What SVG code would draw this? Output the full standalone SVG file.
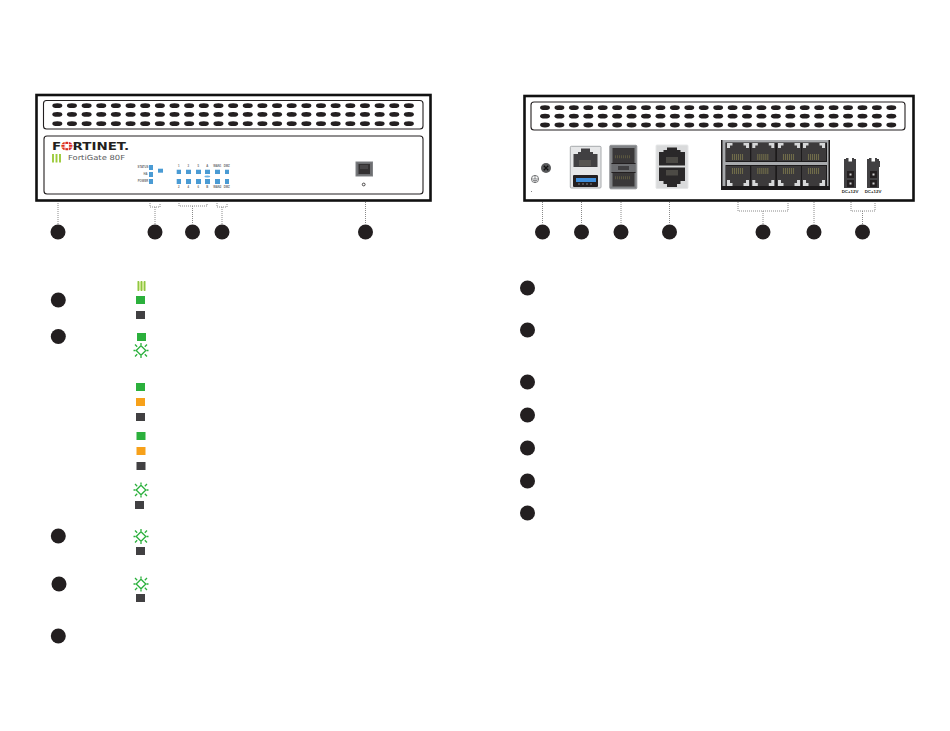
<svg xmlns="http://www.w3.org/2000/svg" xmlns:xlink="http://www.w3.org/1999/xlink" width="950" height="731" viewBox="0 0 950 731">
<style>
.case{fill:#fff;stroke:#111;stroke-width:2.6}
.panel{fill:#fff;stroke:#231f20;stroke-width:1.1}
.dot{fill:none;stroke:#8a8a8a;stroke-width:1;stroke-dasharray:1 1}
.num{fill:#231f20}
.g{fill:#2bb03c}.o{fill:#f7a11a}.d{fill:#414042}.b{fill:#4a9bd4}
.tiny{font-family:"Liberation Sans",sans-serif;font-size:2.8px;font-weight:bold;fill:#6d6e71;text-anchor:middle}
.dc{font-family:"Liberation Sans",sans-serif;font-size:4.4px;font-weight:bold;fill:#231f20;text-anchor:middle}
.port{fill:#2a2829}
.lan{fill:#3c3a3b}
</style>
<defs>
<ellipse id="h" rx="5" ry="2.4" fill="#231f20"/>
<g id="row"><use xlink:href="#h" x="0"/><use xlink:href="#h" x="14.65"/><use xlink:href="#h" x="29.3"/><use xlink:href="#h" x="43.95"/><use xlink:href="#h" x="58.6"/><use xlink:href="#h" x="73.25"/><use xlink:href="#h" x="87.9"/><use xlink:href="#h" x="102.55"/><use xlink:href="#h" x="117.2"/><use xlink:href="#h" x="131.85"/><use xlink:href="#h" x="146.5"/><use xlink:href="#h" x="161.15"/><use xlink:href="#h" x="175.8"/><use xlink:href="#h" x="190.45"/><use xlink:href="#h" x="205.1"/><use xlink:href="#h" x="219.75"/><use xlink:href="#h" x="234.4"/><use xlink:href="#h" x="249.05"/><use xlink:href="#h" x="263.7"/><use xlink:href="#h" x="278.35"/><use xlink:href="#h" x="293"/><use xlink:href="#h" x="307.65"/><use xlink:href="#h" x="322.3"/><use xlink:href="#h" x="336.95"/><use xlink:href="#h" x="351.6"/></g>
<g id="star" fill="none" stroke="#2bb03c" stroke-width="1.3"><path d="M0-4.8 4.8 0 0 4.8-4.8 0Z"/><path d="M0-7.5V-5.5M0 5.5V7.500M-7.500 0H-5.500M5.500 0H7.500M-6-6-3.800-3.800M6-6 3.800-3.800M-6 6-3.800 3.800M6 6 3.800 3.800"/></g>
<rect id="sq" x="-4.5" y="-4" width="9" height="8"/>
<circle id="n" r="7.5" class="num"/>
<g id="ltop"><rect class="lan" width="24" height="18"/><path d="M1 0H6.500V2.500H4V5H1ZM17.500 0H23V5H20V2.500H17.500Z" fill="#d6d7d8"/><path d="M6.500 11V17M8.500 11V17M10.500 11V17M12.500 11V17M14.500 11V17M16.500 11V17" stroke="#6f6b4a" stroke-width="1.100" fill="none"/></g>
<g id="lbot"><rect class="lan" width="24" height="20"/><path d="M1 14H4V17H6.500V20H1ZM20 14H23V20H17.500V17H20Z" fill="#d6d7d8"/><path d="M6.500 2V8M8.500 2V8M10.500 2V8M12.500 2V8M14.500 2V8M16.500 2V8" stroke="#6f6b4a" stroke-width="1.100" fill="none"/></g>
</defs>

<g id="connectors">
<path class="dot" d="M58 203V224M150 203V207H160V203M155 207V224M179 203V206H207V203M192.500 206V224M217 203V207H227V203M222 207V224M365.500 202V224"/>
<path class="dot" d="M542.500 202V224M581.500 202V224M621 202V224M669.500 202V224M738 202V211H788V202M763 211V224M814 202V224M851 202V211H875V202M862.500 211V224"/>
</g>

<g id="front-unit">
<rect class="case" x="36.500" y="95" width="394" height="105.500"/>
<rect class="panel" x="43.500" y="100.500" width="379.500" height="28.500" rx="3"/>
<use xlink:href="#row" x="57.300" y="105.700"/><use xlink:href="#row" x="57.300" y="114.400"/><use xlink:href="#row" x="57.300" y="123.700"/>
<rect class="panel" x="44" y="136" width="379" height="58" rx="3"/>
<g id="logo">
<text x="52" y="149.500" font-family="DejaVu Sans,sans-serif" font-size="10.500" font-weight="bold" fill="#231f20" textLength="77" lengthAdjust="spacingAndGlyphs">F<tspan fill="#da291c" stroke="#da291c" stroke-width=".7">O</tspan>RTINET.</text>
<path d="M65 141V151M68.500 141V151M60 144.500H74M60 147.200H74" stroke="#fff" stroke-width=".7" fill="none"/>
<path d="M53 154V162.500M56.500 154V162.500M60 154V162.500" stroke="#9ccb3b" stroke-width="1.900" fill="none"/>
<text x="68" y="160.300" font-family="DejaVu Sans,sans-serif" font-size="7" fill="#58595b" textLength="57" lengthAdjust="spacingAndGlyphs">FortiGate 80F</text>
</g>
<g id="leds">
<rect class="b" x="149" y="165" width="4" height="5"/><rect class="b" x="149" y="172" width="4" height="5"/><rect class="b" x="149" y="179" width="4" height="5"/>
<rect class="b" x="158" y="168.700" width="5" height="4"/>
<text class="tiny" x="143" y="168.300">STATUS</text><text class="tiny" x="145.500" y="175.300">HA</text><text class="tiny" x="143" y="182.300">POWER</text>
<rect class="b" x="176.700" y="169.700" width="4.300" height="4.300"/><rect class="b" x="186" y="169.700" width="5" height="4.300"/><rect class="b" x="196" y="169.700" width="5" height="4.300"/><rect class="b" x="205" y="169.700" width="5" height="4.300"/><rect class="b" x="215" y="169.700" width="5" height="4.300"/><rect class="b" x="225" y="169.700" width="4" height="4.300"/>
<rect class="b" x="176.700" y="179" width="4.300" height="5"/><rect class="b" x="186" y="179" width="5" height="5"/><rect class="b" x="196" y="179" width="5" height="5"/><rect class="b" x="205" y="179" width="5" height="5"/><rect class="b" x="215" y="179" width="5" height="5"/><rect class="b" x="225" y="179" width="4" height="5"/>
<ellipse cx="207.300" cy="176.500" rx="3" ry="1" fill="#6db3e4"/>
<text class="tiny" x="178.800" y="167">1</text><text class="tiny" x="188.300" y="167">3</text><text class="tiny" x="198.300" y="167">5</text><text class="tiny" x="207.300" y="167">A</text><text class="tiny" x="217.300" y="167">WAN1</text><text class="tiny" x="226.700" y="167">DMZ</text>
<text class="tiny" x="178.800" y="188">2</text><text class="tiny" x="188.300" y="188">4</text><text class="tiny" x="198.300" y="188">6</text><text class="tiny" x="207.300" y="188">B</text><text class="tiny" x="217.300" y="188">WAN2</text><text class="tiny" x="226.700" y="188">DMZ</text>
</g>
<g id="console">
<rect x="356" y="162" width="16.500" height="14" fill="#6d6e71" stroke="#808285"/>
<rect x="358.500" y="164" width="11.500" height="10" fill="#333132"/>
<path d="M361 165V169M363 165V169M365 165V169M367 165V169" stroke="#6d6e71" stroke-width=".7"/>
<circle cx="363.700" cy="184.500" r="1.400" fill="none" stroke="#231f20" stroke-width=".8"/>
</g>
</g>

<g id="rear-unit">
<rect class="case" x="524.500" y="96" width="389" height="104.500"/>
<rect class="panel" x="531" y="102" width="374" height="28" rx="3"/>
<g transform="translate(545 0) scale(.985 1)"><use xlink:href="#row" y="107.700"/><use xlink:href="#row" y="116.200"/><use xlink:href="#row" y="125"/></g>
<g id="ground">
<circle cx="546" cy="168" r="5" fill="#58595b"/>
<path d="M543.800 165.800 548.200 170.200M548.200 165.800 543.800 170.200" stroke="#111" stroke-width="1.300"/>
<circle cx="535" cy="179" r="3.600" fill="none" stroke="#58595b" stroke-width=".8"/>
<path d="M535 175.400V179M532 179H538M533 180.500H537M534 182H536" stroke="#58595b" stroke-width=".7"/>
<circle cx="531.500" cy="191.500" r=".5" fill="#58595b"/>
</g>
<g id="mgmt-usb">
<rect x="570.300" y="146.300" width="30.700" height="41.700" rx="1" fill="#e6e7e8" stroke="#a7a9ac"/>
<path d="M573.500 154H578V152H581V148.500H590V152H593V154H597.500V167H573.500Z" fill="#414042"/>
<path d="M580 160V166M582 160V166M584 160V166M586 160V166M588 160V166M590 160V166" stroke="#77756a" stroke-width=".8"/>
<rect x="573" y="175" width="25" height="12" rx="1" fill="#231f20"/>
<rect x="576" y="178" width="20" height="4" fill="#3f8fdc"/>
<path d="M578 184H594" stroke="#808285" stroke-width="1" stroke-dasharray="2 2"/>
</g>
<g id="sfp">
<rect x="609.800" y="145.300" width="27" height="43.500" rx="1" fill="#808285" stroke="#939598"/>
<rect x="612.500" y="148" width="22" height="15" fill="#3a3839"/>
<rect x="612.500" y="173" width="22" height="13.500" fill="#3a3839"/>
<rect x="611.500" y="163" width="24" height="10" fill="#6d6e71"/>
<path d="M611.500 163.500H635.500M611.500 172.500H635.500" stroke="#231f20" stroke-width="1"/>
<rect x="618" y="166" width="11" height="4" fill="#414042"/>
<path d="M615 156.700H631M615 177.700H631" stroke="#5a5640" stroke-width="3" stroke-dasharray="1 1"/>
</g>
<g id="wan-pair">
<rect x="656" y="145" width="32" height="43.500" rx="1" fill="#d9dadb" stroke="#e6e7e8"/>
<path class="port" d="M659 152H663.500V150H667V147.500H677V150H680.500V152H685V165.500H659Z"/>
<path class="port" d="M659 167.500H685V181H680.500V184H677V187H667V184H663.500V181H659Z"/>
<path d="M667 157V163M669 157V163M671 157V163M673 157V163M675 157V163M677 157V163M667 170V175.500M669 170V175.500M671 170V175.500M673 170V175.500M675 170V175.500M677 170V175.500" stroke="#77756a" stroke-width=".9"/>
</g>
<g id="lan-block">
<rect x="721" y="140" width="109" height="50" fill="#1c1a1b"/>
<rect x="722.500" y="140" width="106" height="46.500" fill="#a7a9ac"/>
<rect x="725.500" y="142.500" width="101.500" height="19.500" fill="#1c1a1b"/>
<rect x="725.500" y="165" width="101.500" height="25" fill="#1c1a1b"/>
<rect x="721" y="186" width="109" height="4" fill="#1c1a1b"/>
<use xlink:href="#ltop" x="726" y="143"/><use xlink:href="#ltop" x="751.300" y="143"/><use xlink:href="#ltop" x="777" y="143"/><use xlink:href="#ltop" x="802" y="143"/>
<use xlink:href="#lbot" x="726" y="166"/><use xlink:href="#lbot" x="751.300" y="166"/><use xlink:href="#lbot" x="777" y="166"/><use xlink:href="#lbot" x="802" y="166"/>
</g>
<g id="dc-power">
<path d="M844 159H846V158H854V159H856V188H844Z" fill="#414042"/><path d="M867 159H869V158H877V159H879V161H880V167H879V188H867Z" fill="#414042"/>
<rect x="848.500" y="158" width="3.500" height="3.500" fill="#fff"/><rect x="871.500" y="158" width="3.500" height="3.500" fill="#fff"/>
<rect x="847" y="171" width="7" height="7" fill="#231f20"/><rect x="847" y="180" width="7" height="7" fill="#231f20"/><rect x="870" y="171" width="7" height="7" fill="#231f20"/><rect x="870" y="180" width="7" height="7" fill="#231f20"/>
<rect x="849.500" y="173.500" width="2" height="2" fill="#d0d0d0"/><rect x="849.500" y="182.500" width="2" height="2" fill="#d0d0d0"/><rect x="872.500" y="173.500" width="2" height="2" fill="#d0d0d0"/><rect x="872.500" y="182.500" width="2" height="2" fill="#d0d0d0"/>
<text class="dc" x="850" y="192.500">DC+12V</text><text class="dc" x="873" y="192.500">DC+12V</text>
</g>
</g>

<g id="callouts-front"><use xlink:href="#n" x="58" y="232"/><use xlink:href="#n" x="155" y="232"/><use xlink:href="#n" x="192.500" y="232"/><use xlink:href="#n" x="222" y="232"/><use xlink:href="#n" x="365.500" y="232"/></g>
<g id="callouts-rear"><use xlink:href="#n" x="542.500" y="232"/><use xlink:href="#n" x="581.500" y="232"/><use xlink:href="#n" x="621" y="232"/><use xlink:href="#n" x="669.500" y="232"/><use xlink:href="#n" x="763" y="232"/><use xlink:href="#n" x="814" y="232"/><use xlink:href="#n" x="862.500" y="232"/></g>
<g id="legend-left-bullets"><use xlink:href="#n" x="58.300" y="300"/><use xlink:href="#n" x="58.300" y="336.500"/><use xlink:href="#n" x="58.300" y="536"/><use xlink:href="#n" x="59" y="584"/><use xlink:href="#n" x="58.300" y="636"/></g>
<g id="legend-right-bullets"><use xlink:href="#n" x="527.500" y="288"/><use xlink:href="#n" x="527.500" y="330"/><use xlink:href="#n" x="527.500" y="382"/><use xlink:href="#n" x="527.500" y="415"/><use xlink:href="#n" x="527.500" y="448"/><use xlink:href="#n" x="527.500" y="481"/><use xlink:href="#n" x="527.500" y="513"/></g>

<g id="legend-icons">
<rect x="137.500" y="281.500" width="8" height="9" fill="#d5e89a"/>
<path d="M138.300 281V291M141.500 281V291M144.700 281V291" stroke="#8cc63f" stroke-width="1.300"/>
<use xlink:href="#sq" class="g" x="140.500" y="300"/><use xlink:href="#sq" class="d" x="140.500" y="315"/>
<use xlink:href="#sq" class="g" x="141.500" y="337"/><use xlink:href="#star" x="141" y="350.500"/>
<use xlink:href="#sq" class="g" x="140.500" y="387"/><use xlink:href="#sq" class="o" x="140.500" y="402"/><use xlink:href="#sq" class="d" x="140.500" y="417"/>
<use xlink:href="#sq" class="g" x="141" y="436"/><use xlink:href="#sq" class="o" x="141" y="451"/><use xlink:href="#sq" class="d" x="141" y="466"/>
<use xlink:href="#star" x="141" y="490"/><use xlink:href="#sq" class="d" x="139.500" y="505"/>
<use xlink:href="#star" x="141" y="536.500"/><use xlink:href="#sq" class="d" x="140.500" y="551"/>
<use xlink:href="#star" x="141" y="584"/><use xlink:href="#sq" class="d" x="140.500" y="598"/>
</g>
</svg>
